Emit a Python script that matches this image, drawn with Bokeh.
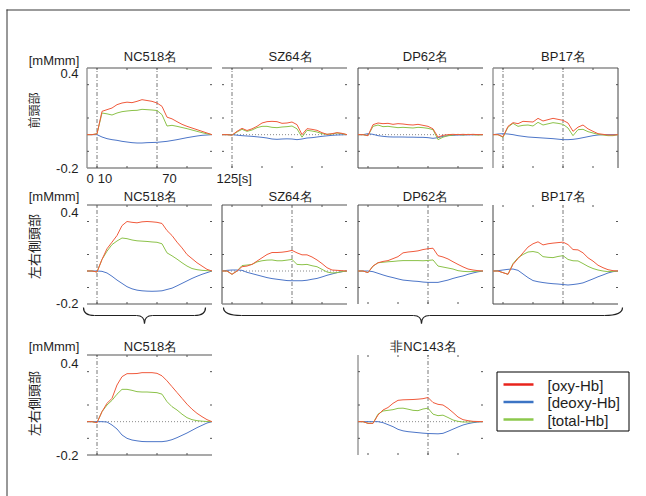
from math import pi
from bokeh.plotting import figure
from bokeh.models import Range1d
from bokeh.core.properties import value
from bokeh.embed import file_html
from bokeh.resources import INLINE

# ---------------- data (time in s, concentration change in mM*mm) ----------------
T = [0, 5, 10, 15, 20, 25, 30, 35, 40, 45, 50, 55, 60, 65, 70, 75, 80, 85, 90, 95, 100, 105, 110, 115, 120, 125]

# Row 1: frontal (前頭部)
NC_F_OXY = [0, 0, 0.005, 0.14, 0.15, 0.16, 0.18, 0.19, 0.195, 0.192, 0.2, 0.21, 0.205, 0.2, 0.19, 0.17, 0.105, 0.095, 0.078, 0.062, 0.05, 0.04, 0.03, 0.02, 0.01, 0]
NC_F_TOT = [0, 0, 0.005, 0.13, 0.125, 0.118, 0.13, 0.138, 0.142, 0.145, 0.146, 0.152, 0.15, 0.148, 0.145, 0.12, 0.052, 0.056, 0.05, 0.043, 0.036, 0.028, 0.02, 0.012, 0.005, 0]
NC_F_DEO = [0, 0, 0, -0.014, -0.024, -0.03, -0.034, -0.04, -0.044, -0.048, -0.05, -0.05, -0.048, -0.047, -0.046, -0.043, -0.04, -0.035, -0.03, -0.024, -0.018, -0.013, -0.008, -0.004, -0.002, 0]

SZ_F_OXY = [0, 0, -0.003, 0.02, 0.038, 0.025, 0.035, 0.05, 0.07, 0.078, 0.08, 0.078, 0.068, 0.07, 0.076, 0.06, 0.0, 0.036, 0.032, 0.026, 0.012, 0.002, 0.006, 0.012, 0.008, 0]
SZ_F_TOT = [0, 0, -0.003, 0.016, 0.032, 0.02, 0.028, 0.042, 0.05, 0.05, 0.044, 0.042, 0.046, 0.048, 0.052, 0.035, -0.015, 0.026, 0.022, 0.016, 0.006, 0.002, 0.004, 0.01, 0.006, 0]
SZ_F_DEO = [0, 0, 0, -0.003, -0.006, -0.008, -0.01, -0.013, -0.016, -0.02, -0.026, -0.028, -0.026, -0.025, -0.026, -0.03, -0.026, -0.02, -0.018, -0.014, -0.01, -0.007, -0.004, -0.002, -0.001, 0]

DP_F_OXY = [0, 0, -0.006, 0.06, 0.07, 0.066, 0.068, 0.062, 0.066, 0.064, 0.06, 0.058, 0.062, 0.056, 0.05, 0.035, -0.015, -0.004, 0, 0.002, 0, 0.002, 0, 0.002, 0, 0]
DP_F_TOT = [0, 0, -0.006, 0.05, 0.058, 0.048, 0.05, 0.046, 0.042, 0.044, 0.042, 0.04, 0.044, 0.042, 0.038, 0.03, -0.03, -0.015, -0.006, -0.002, 0.002, -0.002, 0.002, 0, -0.002, 0]
DP_F_DEO = [0, 0, 0.006, 0.002, -0.006, -0.01, -0.013, -0.014, -0.014, -0.014, -0.015, -0.015, -0.016, -0.016, -0.018, -0.022, -0.018, -0.01, -0.006, -0.004, -0.002, -0.002, -0.001, -0.001, 0, 0]

BP_F_OXY = [0, 0, -0.012, 0.05, 0.072, 0.066, 0.08, 0.078, 0.076, 0.098, 0.082, 0.09, 0.098, 0.092, 0.086, 0.07, 0.02, 0.045, 0.058, 0.035, 0.02, 0.006, 0.002, -0.002, -0.002, 0]
BP_F_TOT = [0, 0, -0.016, 0.045, 0.068, 0.05, 0.056, 0.058, 0.052, 0.074, 0.058, 0.065, 0.072, 0.068, 0.062, 0.04, -0.006, 0.03, 0.032, 0.018, 0.01, 0.002, -0.002, -0.006, -0.006, 0]
BP_F_DEO = [0, 0.004, 0.006, 0.004, 0, -0.006, -0.01, -0.014, -0.016, -0.018, -0.02, -0.022, -0.024, -0.027, -0.03, -0.03, -0.028, -0.024, -0.018, -0.012, -0.006, -0.002, 0, 0, 0, 0]

# Row 2: bilateral temporal (左右側頭部)
NC_T_OXY = [0, 0, -0.006, 0.07, 0.135, 0.175, 0.215, 0.275, 0.3, 0.295, 0.292, 0.298, 0.3, 0.298, 0.295, 0.288, 0.245, 0.215, 0.175, 0.14, 0.1, 0.075, 0.05, 0.03, 0.01, 0]
NC_T_TOT = [0, 0, -0.006, 0.07, 0.12, 0.16, 0.182, 0.2, 0.196, 0.188, 0.183, 0.181, 0.179, 0.176, 0.174, 0.165, 0.11, 0.092, 0.072, 0.05, 0.03, 0.015, 0.008, 0.004, 0.002, 0]
NC_T_DEO = [0, 0, 0, -0.002, -0.012, -0.032, -0.055, -0.075, -0.095, -0.108, -0.116, -0.12, -0.122, -0.123, -0.122, -0.12, -0.112, -0.104, -0.09, -0.075, -0.06, -0.045, -0.032, -0.02, -0.01, 0]

SZ_T_OXY = [0, 0, -0.02, 0.0, 0.026, 0.03, 0.04, 0.06, 0.08, 0.1, 0.112, 0.112, 0.114, 0.118, 0.125, 0.11, 0.098, 0.098, 0.085, 0.067, 0.045, 0.02, 0.006, 0.004, 0.002, 0]
SZ_T_TOT = [0, 0, -0.02, 0.0, 0.033, 0.036, 0.04, 0.055, 0.062, 0.066, 0.067, 0.062, 0.062, 0.066, 0.07, 0.04, 0.038, 0.04, 0.032, 0.026, 0.01, -0.006, -0.012, -0.01, -0.004, 0]
SZ_T_DEO = [0, 0.004, 0.006, 0.006, 0.004, -0.008, -0.016, -0.024, -0.032, -0.04, -0.046, -0.05, -0.054, -0.058, -0.059, -0.059, -0.059, -0.056, -0.05, -0.045, -0.036, -0.026, -0.018, -0.01, -0.004, 0]

DP_T_OXY = [0, 0, -0.01, 0.03, 0.05, 0.058, 0.063, 0.075, 0.087, 0.11, 0.115, 0.118, 0.122, 0.13, 0.135, 0.138, 0.093, 0.085, 0.073, 0.056, 0.04, 0.025, 0.012, 0.006, 0.002, 0]
DP_T_TOT = [0, 0, -0.01, 0.03, 0.05, 0.053, 0.056, 0.058, 0.061, 0.063, 0.063, 0.063, 0.063, 0.062, 0.064, 0.067, 0.03, 0.024, 0.018, 0.012, 0.002, -0.002, -0.004, -0.003, -0.001, 0]
DP_T_DEO = [0, 0, 0, -0.004, -0.014, -0.024, -0.033, -0.04, -0.048, -0.055, -0.058, -0.061, -0.063, -0.067, -0.069, -0.069, -0.069, -0.062, -0.055, -0.045, -0.037, -0.03, -0.02, -0.012, -0.005, 0]

BP_T_OXY = [0, 0, -0.01, -0.02, 0.04, 0.075, 0.11, 0.145, 0.165, 0.177, 0.158, 0.165, 0.169, 0.172, 0.175, 0.16, 0.13, 0.128, 0.11, 0.08, 0.06, 0.035, 0.02, 0.008, 0.002, 0]
BP_T_TOT = [0, 0, -0.01, -0.02, 0.045, 0.08, 0.1, 0.115, 0.118, 0.112, 0.087, 0.083, 0.081, 0.088, 0.093, 0.07, 0.062, 0.061, 0.045, 0.028, 0.015, 0.006, 0.0, -0.004, -0.002, 0]
BP_T_DEO = [0, 0.002, 0.006, 0.01, 0.012, 0.004, -0.018, -0.04, -0.058, -0.065, -0.07, -0.074, -0.077, -0.079, -0.082, -0.085, -0.082, -0.078, -0.072, -0.06, -0.048, -0.035, -0.024, -0.012, -0.004, 0]

# Row 3: NC vs non-NC, bilateral temporal
NC_G_OXY = [0, 0, -0.006, 0.06, 0.11, 0.14, 0.22, 0.27, 0.288, 0.288, 0.289, 0.294, 0.294, 0.294, 0.29, 0.275, 0.245, 0.21, 0.175, 0.14, 0.105, 0.075, 0.05, 0.03, 0.012, 0]
NC_G_TOT = [0, 0, -0.006, 0.06, 0.1, 0.128, 0.165, 0.194, 0.194, 0.188, 0.18, 0.178, 0.178, 0.176, 0.174, 0.165, 0.12, 0.09, 0.07, 0.045, 0.024, 0.012, 0.006, 0.003, 0.001, 0]
NC_G_DEO = [0, 0, 0, 0, -0.002, -0.02, -0.044, -0.08, -0.1, -0.11, -0.115, -0.119, -0.12, -0.12, -0.12, -0.12, -0.116, -0.108, -0.096, -0.082, -0.068, -0.052, -0.036, -0.022, -0.008, 0]

NON_G_OXY = [0, 0, -0.01, -0.01, 0.04, 0.07, 0.085, 0.11, 0.128, 0.131, 0.132, 0.133, 0.135, 0.138, 0.145, 0.115, 0.104, 0.1, 0.08, 0.055, 0.028, 0.012, 0.006, 0.002, 0.001, 0]
NON_G_TOT = [0, 0, -0.01, -0.01, 0.045, 0.064, 0.068, 0.072, 0.08, 0.081, 0.075, 0.068, 0.066, 0.076, 0.081, 0.045, 0.036, 0.039, 0.025, 0.01, 0.002, -0.002, -0.002, -0.001, 0, 0]
NON_G_DEO = [0, 0, 0, 0, 0, -0.006, -0.018, -0.03, -0.046, -0.055, -0.06, -0.063, -0.066, -0.069, -0.071, -0.072, -0.073, -0.07, -0.058, -0.045, -0.032, -0.02, -0.012, -0.006, -0.002, 0]

TITLES_ROW1 = ["NC518名", "SZ64名", "DP62名", "BP17名"]
TITLES_ROW2 = ["NC518名", "SZ64名", "DP62名", "BP17名"]
TITLES_ROW3 = ["NC518名", "非NC143名"]
REGION_LABELS = ["前頭部", "左右側頭部", "左右側頭部"]
UNIT_LABEL = "[mMmm]"
Y_TICK_LABELS = ["0.4", "-0.2"]
X_TICK_LABELS = ["0", "10", "70", "125[s]"]
LEGEND_LABELS = ["[oxy-Hb]", "[deoxy-Hb]", "[total-Hb]"]
X_RANGE = (0, 125)
Y_RANGE = (-0.2, 0.4)
X_TICKS = [10, 40, 70, 100]
Y_TICKS = [-0.1, 0.1, 0.3]

# ---------------- styling / layout (page pixel positions) ----------------
FONT = "Liberation Sans"
CJK = "Noto Sans CJK JP"
TXT = "#1e1e1e"
OXY_C, DEO_C, TOT_C = "#F05A3C", "#4D76C8", "#8CC24A"
LEG_C = ["#E8241C", "#3C74C4", "#8CC84C"]
GRAY, DARK = "#8c8c8c", "#444444"

W, H = 630, 496
OX, OY = 0, 0
COL_X = [86, 221, 357, 492]
PANEL_W = 125
ROW_Y = [(67, 167), (204, 303), (354, 454)]
TITLE_DX = [64, 69, 68, 71]
TITLE_Y = [56, 196, 346]

p = figure(width=W, height=H, x_range=Range1d(OX, OX + W), y_range=Range1d(OY + H, OY),
           x_axis_type=None, y_axis_type=None, toolbar_location=None, output_backend="svg",
           min_border=0, outline_line_color=None, background_fill_color="white",
           border_fill_color="white")


def txt(x, y, s, size="13px", align="center", font=FONT, angle=0.0, baseline="middle"):
    p.text(x=[x], y=[y], text=[s], text_font=value(font), text_font_size=value(size),
           text_align=align, text_baseline=baseline, angle=angle, text_color=TXT)


def panel(ci, ri, title, oxy, deo, tot, sides, vlines, zero, title_x=None):
    x0 = COL_X[ci] + 0.5
    ytop, ybot = ROW_Y[ri]
    s = p.subplot(x_source=Range1d(*X_RANGE), y_source=Range1d(*Y_RANGE),
                  x_target=Range1d(x0, x0 + PANEL_W), y_target=Range1d(ybot + 0.5, ytop + 0.5))
    ypx = (Y_RANGE[1] - Y_RANGE[0]) / (ybot - ytop)
    xpx = (X_RANGE[1] - X_RANGE[0]) / PANEL_W
    xa, xb = X_RANGE
    ya, yb = Y_RANGE
    edges = {"left": (xa, ya, xa, yb), "right": (xb, ya, xb, yb),
             "above": (xa, yb, xb, yb), "below": (xa, ya, xb, ya)}
    for side, col in sides.items():
        e = edges[side]
        s.segment(x0=[e[0]], y0=[e[1]], x1=[e[2]], y1=[e[3]], line_color=col,
                  line_width=1.3 if col == GRAY else 1)
    n = len(X_TICKS)
    s.segment(x0=X_TICKS * 2, y0=[ya] * n + [yb] * n, x1=X_TICKS * 2,
              y1=[ya + 2 * ypx] * n + [yb - 2 * ypx] * n, line_color="#555555", line_width=1)
    m = len(Y_TICKS)
    s.segment(x0=[xa] * m + [xb] * m, y0=Y_TICKS * 2, x1=[xa + 2 * xpx] * m + [xb - 2 * xpx] * m,
              y1=Y_TICKS * 2, line_color="#555555", line_width=1)
    for v in vlines:
        s.segment(x0=[v], y0=[ya], x1=[v], y1=[yb], line_color="#555555",
                  line_dash="4 2 1 2", line_width=0.8)
    if zero:
        s.segment(x0=[xa], y0=[0], x1=[xb], y1=[0], line_color="#8a8a8a",
                  line_dash="1 2", line_width=1)
    s.line(T, deo, line_color=DEO_C, line_width=1)
    s.line(T, tot, line_color=TOT_C, line_width=1)
    s.line(T, oxy, line_color=OXY_C, line_width=1)
    txt(COL_X[ci] + (title_x if title_x is not None else TITLE_DX[ci]), TITLE_Y[ri], title)


def left_texts(ri, y_unit, y04, ym02, ylab, lab_size):
    txt(53.5, y_unit, UNIT_LABEL)
    txt(78, y04, Y_TICK_LABELS[0], align="right")
    txt(78, ym02, Y_TICK_LABELS[1], align="right")
    txt(33, ylab, REGION_LABELS[ri], size=lab_size, font=CJK, angle=pi / 2)


# outer frame
p.segment(x0=[6], y0=[9.5], x1=[OX + W], y1=[9.5], line_color="#7a7a7a", line_width=1.5)
p.segment(x0=[6.5], y0=[9], x1=[6.5], y1=[OY + H], line_color="#333333", line_width=1)

# Row 1
panel(0, 0, TITLES_ROW1[0], NC_F_OXY, NC_F_DEO, NC_F_TOT,
      {"above": GRAY, "left": GRAY, "below": GRAY}, [10, 70], False)
panel(1, 0, TITLES_ROW1[1], SZ_F_OXY, SZ_F_DEO, SZ_F_TOT, {"above": GRAY}, [10], True)
panel(2, 0, TITLES_ROW1[2], DP_F_OXY, DP_F_DEO, DP_F_TOT,
      {"above": DARK, "left": DARK, "below": DARK}, [], True)
panel(3, 0, TITLES_ROW1[3], BP_F_OXY, BP_F_DEO, BP_F_TOT,
      {"above": GRAY, "left": GRAY, "right": DARK}, [10, 70], False)
left_texts(0, 60, 73, 168, 110, "12px")
txt(89.5, 177.5, X_TICK_LABELS[0])
txt(104.5, 177.5, X_TICK_LABELS[1])
txt(169, 177.5, X_TICK_LABELS[2])
txt(216, 177.5, X_TICK_LABELS[3], align="left")

# Row 2
panel(0, 1, TITLES_ROW2[0], NC_T_OXY, NC_T_DEO, NC_T_TOT,
      {"above": GRAY, "below": GRAY}, [10], False)
panel(1, 1, TITLES_ROW2[1], SZ_T_OXY, SZ_T_DEO, SZ_T_TOT,
      {"above": GRAY, "left": DARK, "below": GRAY}, [70], True)
panel(2, 1, TITLES_ROW2[2], DP_T_OXY, DP_T_DEO, DP_T_TOT,
      {"above": GRAY, "left": DARK}, [70], False)
panel(3, 1, TITLES_ROW2[3], BP_T_OXY, BP_T_DEO, BP_T_TOT,
      {"left": DARK, "below": DARK}, [70], False)
left_texts(1, 196, 212, 303, 246, "13px")

# Braces
for xl, xr, xt, e in [(83, 205, 144, 11), (223, 622, 421, 18)]:
    p.bezier(x0=[xl, xt - 8, xt, xr - e], y0=[307, 315, 323, 315],
             x1=[xl + e, xt, xt + 8, xr], y1=[315, 323, 315, 307],
             cx0=[xl, xt - 3, xt, xr - e / 3], cy0=[313, 315, 318, 315],
             cx1=[xl + e / 3, xt, xt + 3, xr], cy1=[315, 318, 315, 313],
             line_color="#222222", line_width=1.2)
    p.segment(x0=[xl + e, xt + 8], y0=[315, 315], x1=[xt - 8, xr - e], y1=[315, 315],
              line_color="#222222", line_width=1.2)

# Row 3
panel(0, 2, TITLES_ROW3[0], NC_G_OXY, NC_G_DEO, NC_G_TOT,
      {"above": GRAY, "below": GRAY}, [10], True)
panel(2, 2, TITLES_ROW3[1], NON_G_OXY, NON_G_DEO, NON_G_TOT, {"left": GRAY}, [70], True,
      title_x=66)
left_texts(2, 346, 363, 455, 403, "13px")

# Legend (drawn)
p.quad(left=[496.5], right=[628.5], top=[371.5], bottom=[430.5], fill_color="white",
       line_color="black", line_width=1)
LEG_Y = [384, 401.5, 419]
for name, c, y in zip(LEGEND_LABELS, LEG_C, LEG_Y):
    p.segment(x0=[503], y0=[y], x1=[533], y1=[y], line_color=c, line_width=2.5)
    txt(547, y + 0.5, name, size="15px", align="left")

open("out.html", "w").write(file_html(p, INLINE))
